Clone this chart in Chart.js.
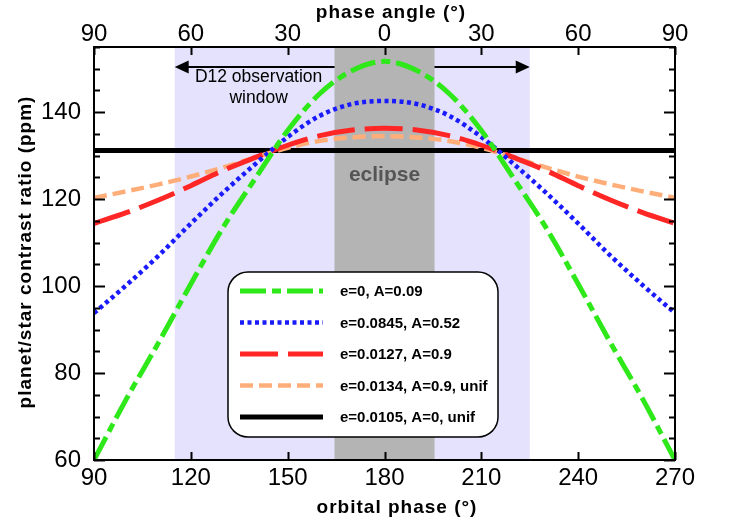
<!DOCTYPE html>
<html>
<head>
<meta charset="utf-8">
<script src="https://cdn.jsdelivr.net/npm/chart.js@4.4.1/dist/chart.umd.min.js"></script>
<style>
  body { margin: 0; background: #fff; }
</style>
</head>
<body>
<canvas id="contrast" width="731" height="526"></canvas>
<script>
'use strict';
//****************************
// DATA
//****************************
// orbital phase (deg) where each model curve is sampled
var phase = [90, 100, 110, 120, 130, 140, 150, 160, 170, 180, 190, 200, 210, 220, 230, 240, 250, 260, 270];

// planet/star contrast (ppm) for each orbit / albedo case
var circA009 = [60, 74, 87, 100.5, 113.5, 124.8, 135.8, 144.3, 149.6, 151.7, 149.6, 144.3, 135.8, 124.8, 113.5, 100.5, 87, 74, 60];
var ecc0845 = [93.8, 100.2, 107, 114.4, 121.5, 128.1, 134.3, 139.2, 141.9, 142.6, 141.9, 139.2, 134.3, 128.1, 121.5, 114.4, 107, 100.2, 93.8];
var ecc0127 = [114.4, 116.9, 119.8, 123.1, 126.6, 129.6, 132.4, 134.6, 135.9, 136.3, 135.9, 134.6, 132.4, 129.6, 126.6, 123.1, 119.8, 116.9, 114.4];
var ecc0134Unif = [120.3, 121.8, 123.4, 125.2, 127.3, 129.6, 131.8, 133.4, 134.2, 134.5, 134.2, 133.4, 131.8, 129.6, 127.3, 125.2, 123.4, 121.8, 120.3];
var ecc0105Unif = [131.2, 131.2, 131.2, 131.2, 131.2, 131.2, 131.2, 131.2, 131.2, 131.2, 131.2, 131.2, 131.2, 131.2, 131.2, 131.2, 131.2, 131.2, 131.2];

var caseLabels = ['e=0, A=0.09', 'e=0.0845, A=0.52', 'e=0.0127, A=0.9', 'e=0.0134, A=0.9, unif', 'e=0.0105, A=0, unif'];
var caseValues = [circA009, ecc0845, ecc0127, ecc0134Unif, ecc0105Unif];

// tick values
var xTicks = [90, 120, 150, 180, 210, 240, 270];
var yLabels = [60, 80, 100, 120, 140];

// shaded phase ranges (orbital phase, deg)
var windowRange = [115, 225];
var eclipseRange = [164.5, 195.5];

//****************************
// STYLE
//****************************
var caseColors = ['#2ee81a', '#1a1aff', '#ff2626', '#ffae7a', '#000000'];
var caseDash = [[26, 6, 9, 6], [4, 3.5], [38, 10], [13, 6], []];
var caseWidth = [5, 4.5, 5, 4.5, 5];

var NARROW = "'Liberation Sans Narrow', 'Arial Narrow', 'Liberation Sans', Arial, sans-serif";
var SANS = "'Liberation Sans', Arial, sans-serif";

function buildDatasets() {
  var sets = [];
  for (var i = 0; i < caseValues.length; i++) {
    var pts = [];
    for (var j = 0; j < phase.length; j++) {
      pts.push({ x: phase[j], y: caseValues[i][j] });
    }
    sets.push({
      label: caseLabels[i],
      data: pts,
      borderColor: caseColors[i],
      borderWidth: caseWidth[i],
      borderDash: caseDash[i],
      borderCapStyle: 'butt',
      pointRadius: 0,
      fill: false,
      cubicInterpolationMode: 'monotone'
    });
  }
  return sets;
}

function drawArrowHead(ctx, tipX, y, dir) {
  ctx.beginPath();
  ctx.moveTo(tipX, y);
  ctx.lineTo(tipX + dir * 14, y - 6.5);
  ctx.lineTo(tipX + dir * 14, y + 6.5);
  ctx.closePath();
  ctx.fill();
}

// background bands, window arrow and notes
var bandsPlugin = {
  id: 'bands',
  beforeDatasetsDraw: function(chart) {
    var ctx = chart.ctx;
    var area = chart.chartArea;
    var xs = chart.scales.x;
    var ys = chart.scales.y;
    ctx.save();
    var w0 = xs.getPixelForValue(windowRange[0]);
    var w1 = xs.getPixelForValue(windowRange[1]);
    ctx.fillStyle = '#e4e2fc';
    ctx.fillRect(w0, area.top, w1 - w0, area.bottom - area.top);

    // observation window arrow
    var ay = ys.getPixelForValue(150.4);
    ctx.strokeStyle = '#000';
    ctx.fillStyle = '#000';
    ctx.lineWidth = 2;
    ctx.beginPath();
    ctx.moveTo(w0 + 10, ay);
    ctx.lineTo(w1 - 10, ay);
    ctx.stroke();
    drawArrowHead(ctx, w0, ay, 1);
    drawArrowHead(ctx, w1, ay, -1);

    var e0 = xs.getPixelForValue(eclipseRange[0]);
    var e1 = xs.getPixelForValue(eclipseRange[1]);
    ctx.fillStyle = '#b4b4b4';
    ctx.fillRect(e0, area.top, e1 - e0, area.bottom - area.top);

    ctx.fillStyle = '#555555';
    ctx.font = 'bold 21px ' + SANS;
    ctx.textAlign = 'center';
    ctx.textBaseline = 'alphabetic';
    ctx.fillText('eclipse', xs.getPixelForValue(180), ys.getPixelForValue(124.2));

    ctx.fillStyle = '#000';
    ctx.font = '17.5px ' + NARROW;
    var tx = xs.getPixelForValue(141);
    ctx.fillText('D12 observation', tx, ys.getPixelForValue(147));
    ctx.fillText('window', tx, ys.getPixelForValue(142.2));
    ctx.restore();
  }
};

// frame, inward ticks, legend box and axis titles
var framePlugin = {
  id: 'frame',
  afterDraw: function(chart) {
    var ctx = chart.ctx;
    var area = chart.chartArea;
    var xs = chart.scales.x;
    var ys = chart.scales.y;
    ctx.save();
    ctx.strokeStyle = '#000';
    ctx.lineWidth = 2;
    ctx.setLineDash([]);
    ctx.strokeRect(area.left, area.top, area.right - area.left, area.bottom - area.top);

    ctx.beginPath();
    for (var v = 60; v <= 155; v += 5) {
      var py = Math.round(ys.getPixelForValue(v)) + 0.5;
      var len = yLabels.indexOf(v) >= 0 ? 11 : 6;
      ctx.moveTo(area.left, py);
      ctx.lineTo(area.left + len, py);
      ctx.moveTo(area.right, py);
      ctx.lineTo(area.right - len, py);
    }
    for (var i = 0; i < xTicks.length; i++) {
      var px = Math.round(xs.getPixelForValue(xTicks[i])) + 0.5;
      ctx.moveTo(px, area.bottom);
      ctx.lineTo(px, area.bottom - 8);
      ctx.moveTo(px, area.top);
      ctx.lineTo(px, area.top + 8);
    }
    ctx.stroke();

    // legend
    var lx = 228, ly = 272, lw = 270, lh = 165;
    ctx.beginPath();
    ctx.roundRect(lx, ly, lw, lh, 20);
    ctx.fillStyle = '#fff';
    ctx.fill();
    ctx.lineWidth = 1.5;
    ctx.stroke();
    var sets = chart.data.datasets;
    ctx.font = 'bold 15px ' + SANS;
    ctx.textAlign = 'left';
    ctx.textBaseline = 'middle';
    for (var k = 0; k < sets.length; k++) {
      var ry = 291 + k * 31.5;
      ctx.strokeStyle = sets[k].borderColor;
      ctx.lineWidth = sets[k].borderWidth;
      ctx.setLineDash(sets[k].borderDash);
      ctx.lineCap = 'butt';
      ctx.beginPath();
      ctx.moveTo(240, ry);
      ctx.lineTo(323, ry);
      ctx.stroke();
      ctx.setLineDash([]);
      ctx.fillStyle = '#000';
      ctx.fillText(sets[k].label, 340, ry + 1);
    }

    // axis titles
    ctx.fillStyle = '#000';
    ctx.font = 'bold 19px ' + SANS;
    ctx.letterSpacing = '1px';
    ctx.textAlign = 'center';
    ctx.textBaseline = 'alphabetic';
    ctx.fillText('phase angle (\u00b0)', 391, 18);
    ctx.fillText('orbital phase (\u00b0)', 397, 513);
    ctx.translate(31, 252);
    ctx.rotate(-Math.PI / 2);
    ctx.fillText('planet/star contrast ratio (ppm)', 0, 0);
    ctx.restore();
  }
};

var tickFont = { family: NARROW, size: 24, lineHeight: 1 };

var ctx = document.getElementById('contrast').getContext('2d');
var chart = new Chart(ctx, {
  type: 'line',
  data: { datasets: buildDatasets() },
  options: {
    responsive: false,
    animation: false,
    devicePixelRatio: 1,
    layout: { padding: { left: 0, right: 56, top: 0, bottom: 0 } },
    plugins: { legend: { display: false }, tooltip: { enabled: false } },
    scales: {
      x: {
        type: 'linear',
        position: 'bottom',
        min: 90,
        max: 270,
        grid: { display: false, drawTicks: false },
        border: { display: false },
        ticks: { stepSize: 30, color: '#000', font: tickFont, padding: 6, maxRotation: 0 },
        afterFit: function(scale) { scale.height = 66; }
      },
      x2: {
        type: 'linear',
        position: 'top',
        min: 90,
        max: 270,
        grid: { display: false, drawTicks: false },
        border: { display: false },
        ticks: {
          stepSize: 30, color: '#000', font: tickFont, padding: 1, maxRotation: 0,
          callback: function(v) { return Math.abs(180 - v); }
        },
        afterFit: function(scale) { scale.height = 47; }
      },
      y: {
        min: 60,
        max: 155,
        grid: { display: false, drawTicks: false },
        border: { display: false },
        ticks: {
          stepSize: 5, autoSkip: false, color: '#000', font: tickFont, padding: 13,
          callback: function(v) { return yLabels.indexOf(v) >= 0 ? String(v) : ''; }
        },
        afterFit: function(scale) { scale.width = 94; }
      }
    }
  },
  plugins: [bandsPlugin, framePlugin]
});
</script>
</body>
</html>
